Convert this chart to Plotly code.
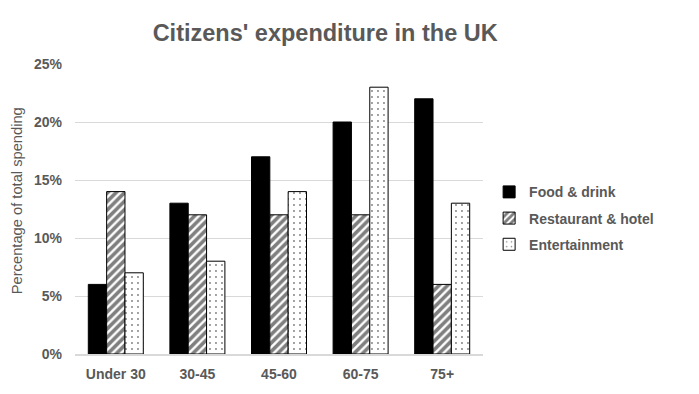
import plotly.graph_objects as go

categories = ["Under 30", "30-45", "45-60", "60-75", "75+"]
food = [6, 13, 17, 20, 22]
restaurant = [14, 12, 12, 12, 6]
entertainment = [7, 8, 14, 23, 13]
series_names = ["Food & drink", "Restaurant & hotel", "Entertainment"]
tick_vals = [0, 5, 10, 15, 20, 25]
tick_text = ["0%", "5%", "10%", "15%", "20%", "25%"]

GREY = "#595959"
FONT = "Liberation Sans, Arial, sans-serif"

fig = go.Figure()
fig.add_trace(go.Bar(
    x=categories, y=food, name=series_names[0], legendgroup="a",
    marker=dict(color="black", line=dict(color="black", width=1)),
))
fig.add_trace(go.Bar(
    x=categories, y=restaurant, name=series_names[1], legendgroup="b",
    marker=dict(color="white", line=dict(color="black", width=1),
                pattern=dict(shape="/", fgcolor="black", bgcolor="white",
                             size=6, solidity=0.6)),
))
fig.add_trace(go.Bar(
    x=categories, y=entertainment, name=series_names[2], legendgroup="c",
    marker=dict(color="white", line=dict(color="black", width=1),
                pattern=dict(shape=".", fgcolor="black", bgcolor="white",
                             size=6, solidity=0.08)),
))

fig.update_layout(
    width=691, height=386,
    margin=dict(l=67, r=216, t=56, b=36),
    paper_bgcolor="white", plot_bgcolor="white",
    barmode="group", bargap=0.326, bargroupgap=0,
    font=dict(family=FONT, color=GREY),
    title=dict(text="<b>Citizens' expenditure in the UK</b>",
               x=0.459, xref="container", xanchor="center",
               y=1 - 25 / 386, yref="container", yanchor="middle",
               font=dict(size=23.5, color=GREY, family=FONT)),
    legend=dict(x=1.015, xref="paper", y=0.468, yanchor="middle",
                font=dict(size=14, color=GREY, family=FONT, weight="bold"),
                tracegroupgap=5, itemwidth=30),
    showlegend=True,
    annotations=[dict(
        text="Percentage of total spending", textangle=-90,
        xref="paper", yref="paper", x=-0.142, y=0.527,
        xanchor="center", yanchor="middle", showarrow=False,
        font=dict(size=14.7, color=GREY, family=FONT),
    )],
)
fig.update_xaxes(
    showgrid=False, showline=True, linecolor="#d9d9d9", linewidth=2,
    tickfont=dict(size=14, color=GREY, family=FONT, weight="bold"),
    ticks="", ticklabelstandoff=6,
)
fig.update_yaxes(
    range=[0, 25], tickvals=tick_vals, ticktext=tick_text,
    showgrid=True, gridcolor="#d9d9d9", gridwidth=1, zeroline=False,
    showline=False, ticks="",
    tickfont=dict(size=14, color=GREY, family=FONT, weight="bold"),
    ticklabelstandoff=12,
)

fig.write_html("out.html")
